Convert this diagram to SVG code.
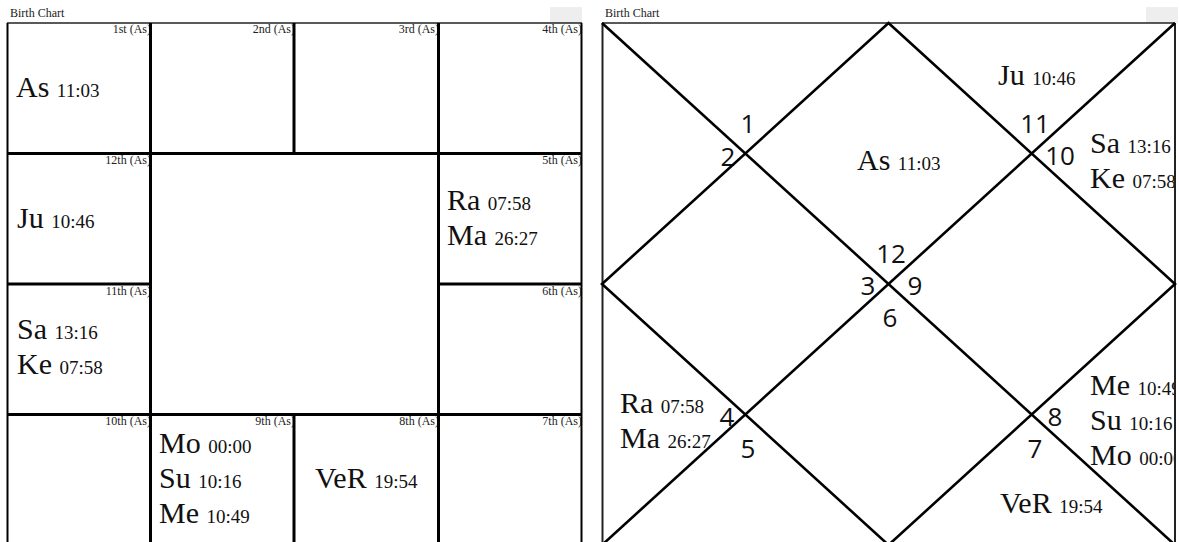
<svg xmlns="http://www.w3.org/2000/svg" width="1179" height="542" viewBox="0 0 1179 542">
<style>
.ttl{font-family:"Liberation Serif",serif;font-size:12px;fill:#222}
.lbl{font-family:"Liberation Serif",serif;font-size:12px;fill:#222;text-anchor:end}
.pl{font-family:"Liberation Serif",serif;font-size:30px;fill:#111}
.tm{font-size:19px}
.num{font-family:"Open Sans","DejaVu Sans",sans-serif;font-size:26px;font-weight:500;fill:#111;text-anchor:middle}
.g{stroke:#000;stroke-width:3;fill:none}
.o{stroke:#222;stroke-width:1.5;fill:none}
.d{stroke:#000;stroke-width:2.6;fill:none}
</style>
<defs>
<clipPath id="rc"><rect x="602" y="23" width="573" height="522"/></clipPath>
</defs>
<rect width="1179" height="542" fill="#fff"/>
<g id="left-chart">
<text class="ttl" x="10" y="17">Birth Chart</text>
<rect x="550" y="7" width="32" height="16" fill="#eeeeee"/>
<g id="h1"><text class="lbl" x="151" y="33">1st (As)</text><text class="pl" x="16" y="97">As <tspan class="tm">11:03</tspan></text></g>
<g id="h2"><text class="lbl" x="295" y="33">2nd (As)</text></g>
<g id="h3"><text class="lbl" x="439" y="33">3rd (As)</text></g>
<g id="h4"><text class="lbl" x="582" y="33">4th (As)</text></g>
<g id="h12"><text class="lbl" x="151" y="164">12th (As)</text><text class="pl" x="17" y="228">Ju <tspan class="tm">10:46</tspan></text></g>
<g id="h5"><text class="lbl" x="582" y="164">5th (As)</text><text class="pl" x="447" y="210">Ra <tspan class="tm">07:58</tspan></text><text class="pl" x="447" y="245">Ma <tspan class="tm">26:27</tspan></text></g>
<g id="h11"><text class="lbl" x="151" y="295">11th (As)</text><text class="pl" x="17" y="339">Sa <tspan class="tm">13:16</tspan></text><text class="pl" x="17" y="374">Ke <tspan class="tm">07:58</tspan></text></g>
<g id="h6"><text class="lbl" x="582" y="295">6th (As)</text></g>
<g id="h10"><text class="lbl" x="151" y="425">10th (As)</text></g>
<g id="h9"><text class="lbl" x="295" y="425">9th (As)</text><text class="pl" x="159" y="453">Mo <tspan class="tm">00:00</tspan></text><text class="pl" x="159" y="488">Su <tspan class="tm">10:16</tspan></text><text class="pl" x="159" y="523">Me <tspan class="tm">10:49</tspan></text></g>
<g id="h8"><text class="lbl" x="439" y="425">8th (As)</text><text class="pl" x="315" y="488">VeR <tspan class="tm">19:54</tspan></text></g>
<g id="h7"><text class="lbl" x="582" y="425">7th (As)</text></g>
<g id="left-lines">
<line class="o" x1="7" y1="23" x2="582" y2="23"/>
<line class="g" x1="7.5" y1="23" x2="7.5" y2="545" style="stroke-width:2"/>
<line class="g" x1="581.5" y1="23" x2="581.5" y2="545" style="stroke-width:2"/>
<line class="g" x1="150.5" y1="23" x2="150.5" y2="545"/>
<line class="g" x1="438.5" y1="23" x2="438.5" y2="545"/>
<line class="g" x1="294" y1="23" x2="294" y2="153.5"/>
<line class="g" x1="294" y1="414.5" x2="294" y2="545"/>
<line class="g" x1="7" y1="153.5" x2="582" y2="153.5"/>
<line class="g" x1="7" y1="414.5" x2="582" y2="414.5"/>
<line class="g" x1="7" y1="284" x2="150.5" y2="284"/>
<line class="g" x1="438.5" y1="284" x2="582" y2="284"/>
</g>
</g>
<g id="right-chart">
<text class="ttl" x="605" y="17">Birth Chart</text>
<rect x="1146" y="7" width="32" height="16" fill="#eeeeee"/>
<g clip-path="url(#rc)">
<g id="r1"><text class="num" x="748" y="133">1</text><text class="pl" x="857" y="170">As <tspan class="tm">11:03</tspan></text></g>
<g id="r2"><text class="num" x="728" y="166">2</text></g>
<g id="r11"><text class="num" x="1035" y="133">11</text><text class="pl" x="998" y="85">Ju <tspan class="tm">10:46</tspan></text></g>
<g id="r10"><text class="num" x="1060" y="165">10</text><text class="pl" x="1090" y="153">Sa <tspan class="tm">13:16</tspan></text><text class="pl" x="1090" y="188">Ke <tspan class="tm">07:58</tspan></text></g>
<g id="r12"><text class="num" x="891" y="263">12</text></g>
<g id="r3"><text class="num" x="868" y="295">3</text></g>
<g id="r9"><text class="num" x="915" y="295">9</text></g>
<g id="r6"><text class="num" x="890" y="327">6</text></g>
<g id="r4"><text class="num" x="727" y="426">4</text><text class="pl" x="620" y="413">Ra <tspan class="tm">07:58</tspan></text><text class="pl" x="620" y="448">Ma <tspan class="tm">26:27</tspan></text></g>
<g id="r5"><text class="num" x="748" y="458">5</text></g>
<g id="r8"><text class="num" x="1055" y="426">8</text><text class="pl" x="1090" y="395">Me <tspan class="tm">10:49</tspan></text><text class="pl" x="1090" y="430">Su <tspan class="tm">10:16</tspan></text><text class="pl" x="1090" y="465">Mo <tspan class="tm">00:00</tspan></text></g>
<g id="r7"><text class="num" x="1035" y="458">7</text><text class="pl" x="1000" y="513">VeR <tspan class="tm">19:54</tspan></text></g>
</g>
<g id="right-lines">
<line class="o" x1="602" y1="23" x2="1175" y2="23"/>
<line class="o" x1="602.5" y1="23" x2="602.5" y2="545" style="stroke-width:2"/>
<line class="o" x1="1175" y1="23" x2="1175" y2="545" style="stroke-width:2"/>
<line class="d" x1="602" y1="23" x2="1175" y2="545"/>
<line class="d" x1="1175" y1="23" x2="602" y2="545"/>
<polygon class="d" points="888.5,23 1175,284 888.5,545 602,284"/>
</g>
</g>
</svg>
